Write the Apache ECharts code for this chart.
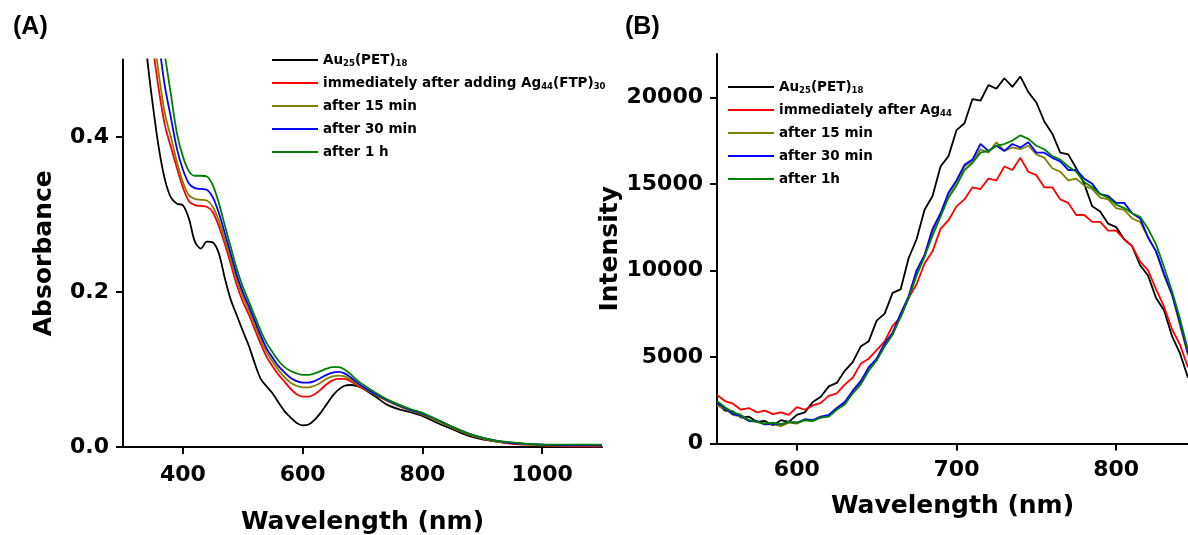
<!DOCTYPE html>
<html>
<head>
<meta charset="utf-8">
<script src="https://cdn.jsdelivr.net/npm/echarts@6/dist/echarts.min.js"></script>
<style>html,body{margin:0;padding:0;background:#fff}#c{width:1188px;height:535px}</style>
</head>
<body>
<div id="c"></div>
<script>
// ---------- Panel A: absorbance ----------
const wlA = [330,340,350,360,370,380,390,400,410,420,430,440,450,460,470,480,490,500,510,520,530,540,550,560,570,580,590,600,610,620,630,640,650,660,670,680,690,700,720,740,760,780,800,825,850,875,900,925,950,975,1000,1050,1100];
const absBlack = [0.60,0.505,0.44,0.385,0.345,0.322,0.314,0.312,0.295,0.265,0.256,0.265,0.264,0.250,0.218,0.190,0.170,0.150,0.131,0.108,0.088,0.078,0.069,0.057,0.046,0.038,0.031,0.028,0.029,0.035,0.044,0.055,0.066,0.074,0.079,0.080,0.079,0.076,0.066,0.055,0.049,0.045,0.040,0.031,0.023,0.015,0.010,0.007,0.005,0.004,0.003,0.002,0.002];
const absRed = [0.65,0.575,0.515,0.46,0.415,0.387,0.36,0.335,0.317,0.312,0.311,0.310,0.303,0.285,0.262,0.236,0.209,0.188,0.171,0.152,0.133,0.116,0.104,0.093,0.084,0.075,0.068,0.065,0.065,0.068,0.074,0.081,0.086,0.088,0.088,0.085,0.080,0.076,0.068,0.060,0.053,0.047,0.042,0.034,0.025,0.017,0.011,0.007,0.004,0.003,0.002,0.001,0.001];
const absOlive = [0.66,0.60,0.54,0.48,0.43,0.40,0.368,0.342,0.325,0.320,0.319,0.318,0.310,0.292,0.268,0.242,0.216,0.195,0.177,0.158,0.139,0.122,0.110,0.099,0.090,0.083,0.079,0.077,0.077,0.079,0.083,0.088,0.091,0.092,0.091,0.087,0.082,0.077,0.068,0.060,0.053,0.047,0.042,0.034,0.025,0.017,0.011,0.007,0.005,0.003,0.002,0.002,0.002];
const absBlue = [0.68,0.62,0.57,0.52,0.465,0.425,0.385,0.358,0.340,0.334,0.333,0.332,0.322,0.302,0.276,0.249,0.222,0.200,0.182,0.163,0.144,0.127,0.115,0.104,0.096,0.089,0.085,0.083,0.083,0.085,0.089,0.093,0.096,0.097,0.095,0.090,0.084,0.078,0.069,0.061,0.054,0.048,0.043,0.035,0.026,0.018,0.012,0.008,0.005,0.004,0.003,0.002,0.002];
const absGreen = [0.72,0.66,0.61,0.555,0.505,0.455,0.405,0.375,0.356,0.350,0.350,0.349,0.338,0.315,0.286,0.258,0.230,0.207,0.188,0.169,0.150,0.134,0.122,0.111,0.103,0.098,0.095,0.093,0.093,0.095,0.098,0.101,0.103,0.103,0.100,0.094,0.087,0.081,0.071,0.062,0.055,0.049,0.044,0.035,0.026,0.018,0.012,0.008,0.006,0.004,0.003,0.003,0.003];
const namesA = ['Au25(PET)18','immediately after adding Ag44(FTP)30','after 15 min','after 30 min','after 1 h'];
const xTicksA = [400,600,800,1000];
const yTicksA = [0,0.2,0.4];

// ---------- Panel B: emission ----------
const wlB = [550,555,560,565,570,575,580,585,590,595,600,605,610,615,620,625,630,635,640,645,650,655,660,665,670,675,680,685,690,695,700,705,710,715,720,725,730,735,740,745,750,755,760,765,770,775,780,785,790,795,800,805,810,815,820,825,830,835,840,845];
const intBlack = [2300,1900,1850,1500,1550,1250,1300,1050,1350,1250,1650,1800,2400,2700,3300,3500,4200,4700,5600,5900,7100,7500,8700,8900,10700,11800,13500,14300,16000,16600,18100,18500,19900,19800,20700,20500,21100,20600,21200,20300,19700,18600,17900,16800,16700,15900,15000,13700,13400,12700,12500,11800,11400,10300,9700,8400,7700,6200,5200,3800];
const intRed = [2800,2450,2300,1950,2050,1800,1900,1700,1800,1650,2100,1950,2200,2350,2750,2900,3400,3800,4600,4900,5400,5900,6800,7300,8400,9200,10400,11100,12400,12900,13700,14100,14800,14700,15300,15200,16000,15800,16500,15700,15500,14800,14800,14100,13900,13200,13200,12800,12800,12300,12300,11800,11400,10500,10000,8900,7900,6600,5700,4400];
const intOlive = [2200,2000,1650,1550,1300,1250,1100,1100,1000,1200,1150,1350,1300,1500,1600,2000,2300,2950,3500,4400,4800,5700,6300,7400,8400,9900,10800,12200,13200,14400,15100,16000,16300,17000,16800,17400,16900,17100,17000,17200,16700,16500,15900,15700,15200,15300,14900,14700,14200,14100,13600,13500,13000,12800,11900,11100,9700,8600,6800,5100];
const intBlue = [2350,2050,1700,1600,1300,1300,1100,1150,1100,1250,1200,1400,1350,1550,1650,2050,2400,3050,3600,4400,4900,5800,6400,7500,8500,10000,10900,12400,13300,14500,15200,16100,16400,17300,16900,17200,16900,17300,17100,17400,16800,16800,16500,16300,15800,15800,15300,15000,14400,14300,13900,13900,13300,13000,11900,11100,9800,8600,7000,5200];
const intGreen = [2450,2100,1800,1650,1350,1250,1150,1200,1100,1250,1200,1350,1300,1500,1550,1950,2250,2900,3400,4200,4800,5600,6300,7300,8400,9700,10800,12000,13100,14200,14900,15800,16200,16800,16900,17200,17300,17500,17800,17600,17200,17000,16600,16400,16000,15700,15100,14800,14400,14200,13800,13600,13300,13100,12400,11500,10200,8800,7200,5400];
const namesB = ['Au25(PET)18','immediately after Ag44','after 15 min','after 30 min','after 1h'];
const xTicksB = [600,700,800];
const yTicksB = [0,5000,10000,15000,20000];

const colors = ['#000000','#ff0000','#808000','#0000ff','#008000'];

const FONT = 'DejaVu Sans';
const richLabel = {
  'Au25(PET)18': '{n|Au}{s|25}{n|(PET)}{s|18}',
  'immediately after adding Ag44(FTP)30': '{n|immediately after adding Ag}{s|44}{n|(FTP)}{s|30}',
  'immediately after Ag44': '{n|immediately after Ag}{s|44}'
};
const legendText = {
  fontFamily: FONT, fontWeight: 'bold', fontSize: 13.5, color: '#000', lineHeight: 20,
  rich: {
    n: {fontFamily: FONT, fontWeight: 'bold', fontSize: 13.5, color: '#000', lineHeight: 20},
    s: {fontFamily: FONT, fontWeight: 'bold', fontSize: 8.5, color: '#000', lineHeight: 12, padding: [8,0,0,0]}
  }
};
function fmt(name){ return richLabel[name] || ('{n|' + name + '}'); }

function mkSeries(names, xs, arrs, idx, smooth, lw){
  return arrs.map((a, i) => ({
    name: names[i], type: 'line', xAxisIndex: idx, yAxisIndex: idx,
    data: xs.map((x, j) => [x, a[j]]), showSymbol: false, symbol: 'none',
    smooth: smooth, lineStyle: {color: colors[i], width: lw}, itemStyle: {color: colors[i]},
    animation: false, clip: true
  }));
}

const axisCommon = {
  axisLine: {show: true, onZero: false, lineStyle: {color: '#000', width: 2}},
  axisTick: {show: true, inside: false, length: 7, lineStyle: {color: '#000', width: 2}},
  splitLine: {show: false},
  nameTextStyle: {fontFamily: FONT, fontWeight: 'bold', fontSize: 25, color: '#000'}
};
const labelCommon = {fontFamily: FONT, fontWeight: 'bold', fontSize: 22, color: '#000', formatter: v => String(v)};

const option = {
  backgroundColor: '#fff',
  animation: false,
  title: [
    {text: '(A)', left: 8, top: 10, textStyle: {fontFamily: 'Liberation Sans', fontWeight: 'bold', fontSize: 25, color: '#000'}},
    {text: '(B)', left: 620, top: 10, textStyle: {fontFamily: 'Liberation Sans', fontWeight: 'bold', fontSize: 25, color: '#000'}}
  ],
  grid: [
    {left: 123, top: 59.5, width: 479, height: 387.5, containLabel: false, outerBoundsMode: 'none'},
    {left: 717, top: 54, width: 471, height: 389.5, containLabel: false, outerBoundsMode: 'none'}
  ],
  legend: [
    {data: namesA, orient: 'vertical', left: 267, top: 45, itemWidth: 46, itemHeight: 2, icon: 'rect', itemGap: 3,
     formatter: fmt, textStyle: legendText, selectedMode: false},
    {data: namesB, orient: 'vertical', left: 723, top: 72, itemWidth: 46, itemHeight: 2, icon: 'rect', itemGap: 3,
     formatter: fmt, textStyle: legendText, selectedMode: false}
  ],
  xAxis: [
    Object.assign({}, axisCommon, {
      gridIndex: 0, type: 'value', min: 300, max: 1100,
      name: 'Wavelength (nm)', nameLocation: 'middle', nameGap: 63,
      axisTick: Object.assign({}, axisCommon.axisTick, {customValues: xTicksA}),
      axisLabel: Object.assign({}, labelCommon, {customValues: xTicksA, margin: 17})
    }),
    Object.assign({}, axisCommon, {
      gridIndex: 1, type: 'value', min: 550, max: 845,
      name: 'Wavelength (nm)', nameLocation: 'middle', nameGap: 50,
      axisTick: Object.assign({}, axisCommon.axisTick, {customValues: xTicksB}),
      axisLabel: Object.assign({}, labelCommon, {customValues: xTicksB, margin: 16})
    })
  ],
  yAxis: [
    Object.assign({}, axisCommon, {
      gridIndex: 0, type: 'value', min: 0, max: 0.5,
      name: 'Absorbance', nameLocation: 'middle', nameGap: 66,
      axisTick: Object.assign({}, axisCommon.axisTick, {customValues: yTicksA}),
      axisLabel: Object.assign({}, labelCommon, {customValues: yTicksA, margin: 14, formatter: v => v.toFixed(1)})
    }),
    Object.assign({}, axisCommon, {
      gridIndex: 1, type: 'value', min: 0, max: 22500,
      name: 'Intensity', nameLocation: 'middle', nameGap: 78,
      axisTick: Object.assign({}, axisCommon.axisTick, {customValues: yTicksB}),
      axisLabel: Object.assign({}, labelCommon, {customValues: yTicksB, margin: 14})
    })
  ],
  series: [].concat(
    mkSeries(namesA, wlA, [absBlack, absRed, absOlive, absBlue, absGreen], 0, 0.3, 1.8),
    mkSeries(namesB, wlB, [intBlack, intRed, intOlive, intBlue, intGreen], 1, false, 1.8)
  )
};

const chart = echarts.init(document.getElementById('c'), null, {renderer: 'canvas'});
chart.setOption(option);
</script>
</body>
</html>
